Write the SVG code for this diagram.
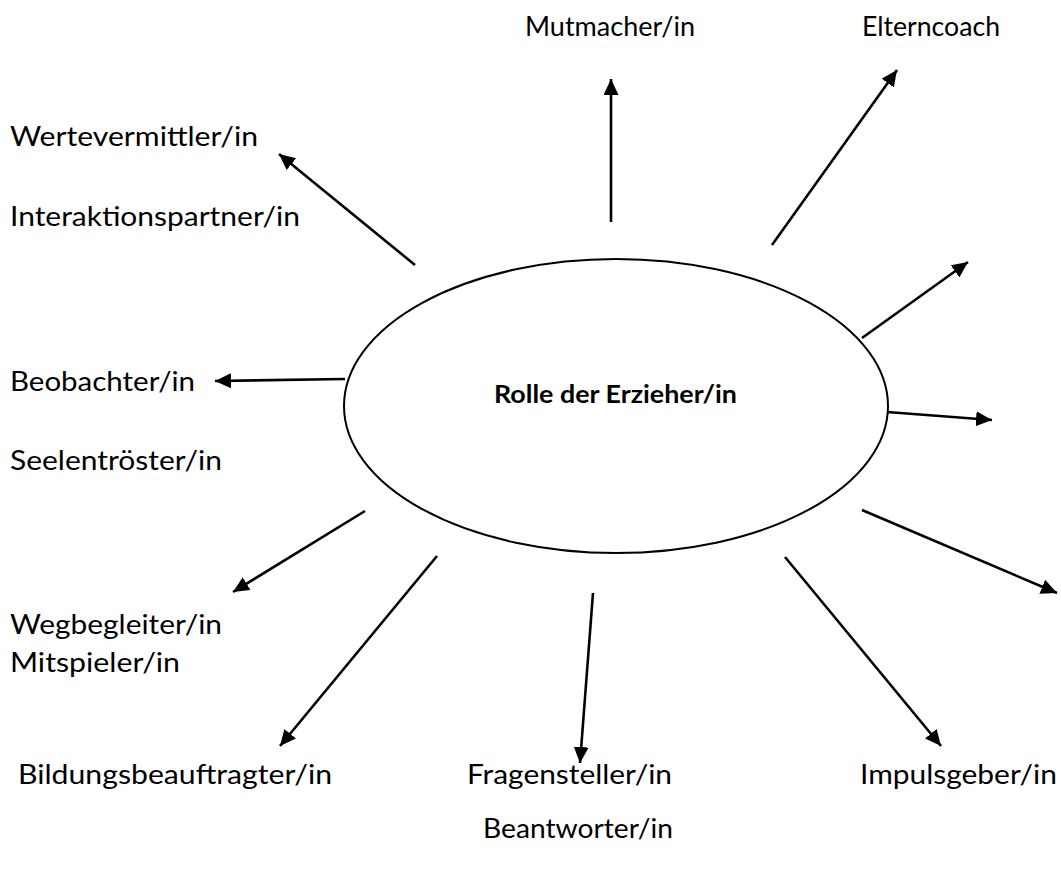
<svg xmlns="http://www.w3.org/2000/svg" width="1061" height="896" viewBox="0 0 1061 896">
<style>
.lbl{font-family:Lato,"Open Sans","Liberation Sans",sans-serif;font-size:27px;fill:#000}
.ttl{font-family:Lato,"Open Sans","Liberation Sans",sans-serif;font-size:24px;font-weight:bold;fill:#000}
.arr{stroke:#000;stroke-width:2.6;fill:none;marker-end:url(#ah)}
</style>
<defs>
<marker id="ah" markerUnits="userSpaceOnUse" markerWidth="18" markerHeight="16" refX="16" refY="7.5" orient="auto">
<path d="M0,0 L16,7.5 L0,15 Z" fill="#000"/>
</marker>
</defs>
<rect width="1061" height="896" fill="#fff"/>
<g id="center">
<ellipse cx="616" cy="406" rx="272" ry="147" fill="#fff" stroke="#000" stroke-width="2"/>
<text class="ttl" x="494" y="403" textLength="243" lengthAdjust="spacingAndGlyphs">Rolle der Erzieher/in</text>
</g>
<g id="connectors">
<line class="arr" x1="415" y1="265" x2="279" y2="154"/>
<line class="arr" x1="611" y1="222" x2="611" y2="79"/>
<line class="arr" x1="772" y1="245" x2="897" y2="70"/>
<line class="arr" x1="862" y1="338" x2="968" y2="262"/>
<line class="arr" x1="887" y1="412" x2="992" y2="420"/>
<line class="arr" x1="345" y1="379" x2="215" y2="381"/>
<line class="arr" x1="365" y1="511" x2="233" y2="592"/>
<line class="arr" x1="437" y1="556" x2="280" y2="746"/>
<line class="arr" x1="593" y1="593" x2="580" y2="763"/>
<line class="arr" x1="785" y1="557" x2="941" y2="746"/>
<line class="arr" x1="862" y1="510" x2="1057" y2="593"/>
</g>
<g id="n-mutmacher"><text class="lbl" x="525" y="36" textLength="170" lengthAdjust="spacingAndGlyphs">Mutmacher/in</text></g>
<g id="n-elterncoach"><text class="lbl" x="862" y="36" textLength="138" lengthAdjust="spacingAndGlyphs">Elterncoach</text></g>
<g id="n-wertevermittler"><text class="lbl" x="10" y="146" textLength="248" lengthAdjust="spacingAndGlyphs">Wertevermittler/in</text></g>
<g id="n-interaktionspartner"><text class="lbl" x="10" y="226" textLength="290" lengthAdjust="spacingAndGlyphs">Interaktionspartner/in</text></g>
<g id="n-beobachter"><text class="lbl" x="10" y="391" textLength="185" lengthAdjust="spacingAndGlyphs">Beobachter/in</text></g>
<g id="n-seelentroester"><text class="lbl" x="10" y="470" textLength="212" lengthAdjust="spacingAndGlyphs">Seelentröster/in</text></g>
<g id="n-wegbegleiter"><text class="lbl" x="10" y="634" textLength="212" lengthAdjust="spacingAndGlyphs">Wegbegleiter/in</text></g>
<g id="n-mitspieler"><text class="lbl" x="10" y="672" textLength="170" lengthAdjust="spacingAndGlyphs">Mitspieler/in</text></g>
<g id="n-bildungsbeauftragter"><text class="lbl" x="18" y="784" textLength="314" lengthAdjust="spacingAndGlyphs">Bildungsbeauftragter/in</text></g>
<g id="n-fragensteller"><text class="lbl" x="467" y="784" textLength="205" lengthAdjust="spacingAndGlyphs">Fragensteller/in</text></g>
<g id="n-impulsgeber"><text class="lbl" x="860" y="784" textLength="197" lengthAdjust="spacingAndGlyphs">Impulsgeber/in</text></g>
<g id="n-beantworter"><text class="lbl" x="483" y="838" textLength="190" lengthAdjust="spacingAndGlyphs">Beantworter/in</text></g>
</svg>
